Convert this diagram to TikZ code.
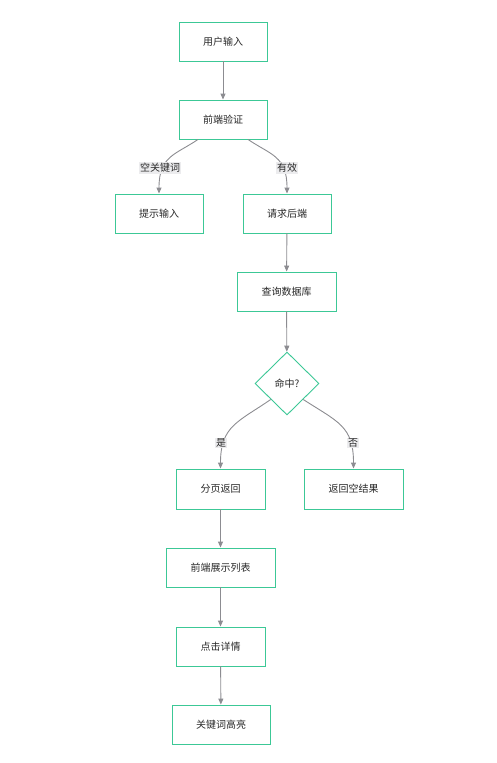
\documentclass[tikz,border=0pt]{standalone}
\usepackage{fontspec}
\setmainfont{Noto Sans CJK SC}
\usetikzlibrary{shapes.geometric,arrows.meta}
\definecolor{boxline}{RGB}{60,200,150}
\definecolor{edgecol}{RGB}{140,140,145}
\definecolor{txt}{RGB}{40,40,40}
\definecolor{lblbg}{RGB}{236,236,238}
\begin{document}
\begin{tikzpicture}[x=1pt,y=-1pt,
  every node/.style={font=\fontsize{10}{12}\selectfont, text=txt},
  box/.style={draw=boxline, line width=0.9pt, fill=white, minimum height=39pt, inner sep=0pt},
  dia/.style={draw=boxline, line width=0.9pt, fill=white, diamond, minimum width=64pt, minimum height=63pt, inner sep=0pt},
  edge/.style={draw=edgecol, line width=0.9pt, -{Triangle[length=6pt,width=5pt]}},
  lbl/.style={fill=lblbg, inner sep=1pt}]
\useasboundingbox (0,0) rectangle (496,763);
\node[box, minimum width=88pt] (a) at (223,41.5) {用户输入};
\node[box, minimum width=88pt] (v) at (223,119.5) {前端验证};
\node[box, minimum width=88pt] (t) at (159,213.5) {提示输入};
\node[box, minimum width=88pt] (r) at (287,213.5) {请求后端};
\node[box, minimum width=99pt] (q) at (286.5,291.5) {查询数据库};
\node[dia] (d) at (287,383.5) {命中?};
\node[box, minimum width=89pt, minimum height=40pt] (p) at (220.5,489) {分页返回};
\node[box, minimum width=99pt, minimum height=40pt] (e) at (353.5,489) {返回空结果};
\node[box, minimum width=109pt] (s) at (220.5,567.5) {前端展示列表};
\node[box, minimum width=89pt] (c) at (220.5,646.5) {点击详情};
\node[box, minimum width=98pt] (h) at (221,724.5) {关键词高亮};

\draw[edge] (a) -- (v);
\draw[edge] ([xshift=-25pt]v.south) .. controls (175,155) and (159,156) .. (t.north);
\draw[edge] ([xshift=25pt]v.south) .. controls (271,155) and (287,156) .. (r.north);
\node[lbl] (l1) at (160,168) {空关键词};
\node[lbl] (l2) at (287,168) {有效};
\draw[edge] (r) -- (q);
\draw[edge] (q) -- (d);
\draw[edge] (d.south west) .. controls (238,422) and (220.5,426) .. (p.north);
\draw[edge] (d.south east) .. controls (338,422) and (353.5,426) .. (e.north);
\node[lbl] (l3) at (221,443) {是};
\node[lbl] (l4) at (353,443) {否};
\draw[edge] (p) -- (s);
\draw[edge] (s) -- (c);
\draw[edge] (c) -- (h);
\end{tikzpicture}
\end{document}
